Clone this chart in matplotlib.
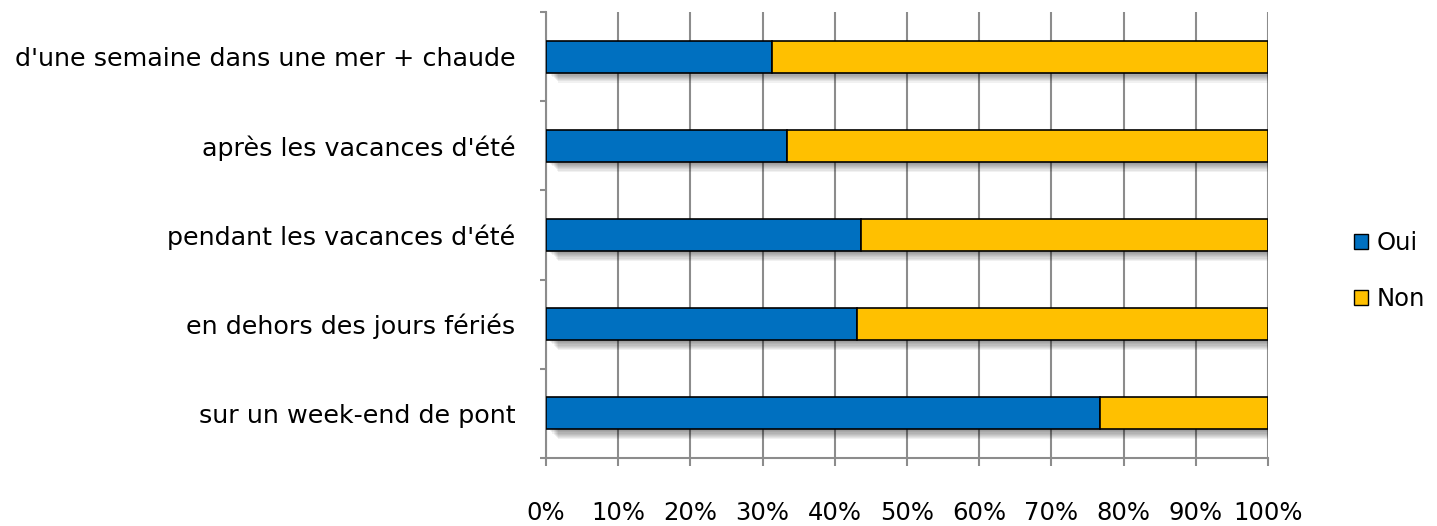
import numpy as np
import matplotlib.pyplot as plt
from matplotlib.patches import Patch

categories = ["d'une semaine dans une mer + chaude",
              "après les vacances d'été",
              "pendant les vacances d'été",
              "en dehors des jours fériés",
              "sur un week-end de pont"]
oui = [31.3, 33.4, 43.6, 43.1, 76.8]
non = [100 - v for v in oui]

blue = '#0070c0'
yellow = '#ffc000'
grid_col = '#8c8c8c'

fig = plt.figure(figsize=(14.37, 5.26), dpi=100)
ax = fig.add_axes([546 / 1437, 1 - 458 / 526, (1268 - 546) / 1437, 446 / 526])

n = len(categories)
ypos = np.arange(n)[::-1]
h = 0.36

# soft shadow under the bars
for k in range(8):
    off = 0.02 + k * 0.013
    ax.barh(ypos - off, 100, height=h, left=0.6 + k * 0.15, color='#000000',
            alpha=0.055, linewidth=0, zorder=2)

ax.barh(ypos, oui, height=h, color=blue, edgecolor='black', linewidth=1.2, zorder=3)
ax.barh(ypos, non, height=h, left=oui, color=yellow, edgecolor='black', linewidth=1.2, zorder=3)

ax.set_xlim(0, 100)
ax.set_ylim(-0.5, n - 0.5)
ax.set_xticks(np.arange(0, 101, 10))
ax.set_xticklabels([f"{v}%" for v in range(0, 101, 10)], fontsize=17.5)
ax.set_yticks(ypos)
ax.set_yticklabels(categories, fontsize=18.3)
ax.set_yticks(np.arange(-0.5, n, 1), minor=True)

ax.tick_params(axis='y', which='major', length=0, pad=22)
ax.tick_params(axis='y', which='minor', length=4.5, width=1.5, color=grid_col)
ax.tick_params(axis='x', length=6, width=1.5, color=grid_col, pad=25)

ax.grid(axis='x', color=grid_col, linewidth=1.5, zorder=0)
ax.set_axisbelow(True)
for s in ['top', 'right']:
    ax.spines[s].set_visible(False)
for s in ['left', 'bottom']:
    ax.spines[s].set_color(grid_col)
    ax.spines[s].set_linewidth(1.5)

handles = [Patch(facecolor=blue, edgecolor='black', label='Oui'),
           Patch(facecolor=yellow, edgecolor='black', label='Non')]
fig.legend(handles=handles, loc='center left', bbox_to_anchor=(1332 / 1437, 1 - 271 / 526),
           frameon=False, fontsize=17.5, handlelength=0.6, handleheight=0.6,
           handletextpad=0.35, labelspacing=1.3)

fig.savefig('out.png', dpi=100)
